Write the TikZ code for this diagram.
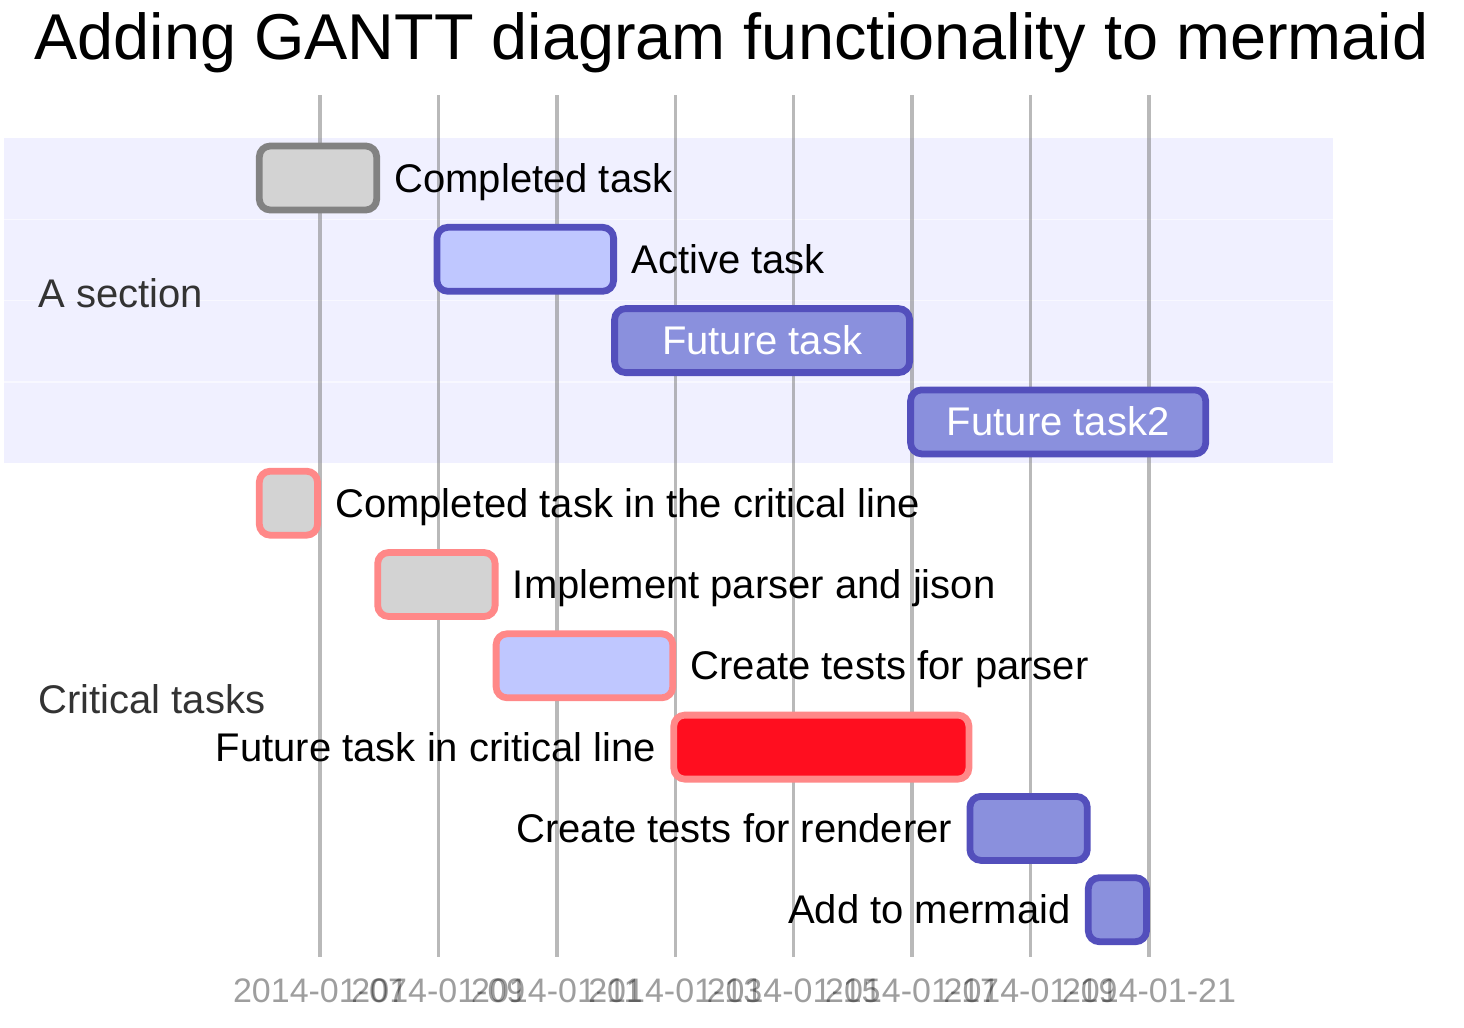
\documentclass[tikz,border=0pt]{standalone}
\usepackage{fontspec}
\setmainfont{Liberation Sans}
\usetikzlibrary{calc}
\definecolor{sectionbg}{HTML}{F0F0FF}
\definecolor{rowsep}{HTML}{F8F8FF}
\definecolor{donefill}{HTML}{D3D3D3}
\definecolor{donestroke}{HTML}{828282}
\definecolor{activefill}{HTML}{BFC7FF}
\definecolor{taskstroke}{HTML}{534FBC}
\definecolor{futurefill}{HTML}{8A90DD}
\definecolor{critstroke}{HTML}{FF8888}
\definecolor{critfill}{HTML}{FF0E1F}
\definecolor{sectiontext}{HTML}{333333}
\tikzset{
  taskbar/.style={draw, rectangle, rounded corners=5.5pt, line width=3.4pt, inner sep=0pt, minimum height=32pt},
  donebar/.style={taskbar, fill=donefill, draw=donestroke},
  activebar/.style={taskbar, fill=activefill, draw=taskstroke},
  futurebar/.style={taskbar, fill=futurefill, draw=taskstroke},
  critdone/.style={taskbar, fill=donefill, draw=critstroke},
  critactive/.style={taskbar, fill=activefill, draw=critstroke},
  critfuture/.style={taskbar, fill=critfill, draw=critstroke},
  tasklabel/.style={inner sep=0pt, font=\fontsize{20pt}{24pt}\selectfont, text=black},
  innerlabel/.style={tasklabel, text=white, anchor=base},
  sectionlabel/.style={inner sep=0pt, font=\fontsize{20pt}{24pt}\selectfont, text=sectiontext, anchor=base west},
  ticklabel/.style={inner sep=0pt, font=\fontsize{17pt}{20pt}\selectfont, text=black, text opacity=0.38, anchor=base},
  gridline/.style={draw=gray, line width=1.75pt, draw opacity=0.55},
  titlelabel/.style={inner sep=0pt, font=\fontsize{32.4pt}{38pt}\selectfont, text=black, anchor=base}
}
\begin{document}
\begin{tikzpicture}[x=0.5pt, y=-0.5pt]
\useasboundingbox[fill=white] (0,0) rectangle (1464,1028);
% section background
\fill[sectionbg] (4,138) rectangle (1333,463.2);
\foreach \yy in {219.3, 300.6, 381.9} \draw[rowsep, line width=0.75pt] (4,\yy) -- (1333,\yy);
% title
\node[titlelabel] (title) at (731.5,60) {Adding GANTT diagram functionality to mermaid};
% grid lines and tick labels
\foreach \k/\lab in {0/07,1/09,2/11,3/13,4/15,5/17,6/19,7/21} {
  \pgfmathsetmacro{\gx}{320+118.43*\k}
  \draw[gridline] (\gx,95) -- (\gx,957);
  \node[ticklabel] (tick\k) at (\gx,1002) {2014-01-\lab};
}
% section labels
\node[sectionlabel] (secA) at (38,307) {A section};
\node[sectionlabel] (secB) at (38,713) {Critical tasks};
% bars
\node[donebar,    minimum width=58.7pt]   (b1)  at (318.0,178.0) {};
\node[activebar,  minimum width=88.35pt]  (b2)  at (525.25,259.3) {};
\node[futurebar,  minimum width=147.5pt]  (b3)  at (762.1,340.6) {};
\node[futurebar,  minimum width=147.55pt] (b4)  at (1058.15,421.9) {};
\node[critdone,   minimum width=29.1pt]   (b5)  at (288.4,503.2) {};
\node[critdone,   minimum width=58.7pt]   (b6)  at (436.4,584.5) {};
\node[critactive, minimum width=88.35pt]  (b7)  at (584.45,665.8) {};
\node[critfuture, minimum width=147.55pt] (b8)  at (821.35,747.1) {};
\node[futurebar,  minimum width=58.7pt]   (b9)  at (1028.6,828.4) {};
\node[futurebar,  minimum width=29.1pt]   (b10) at (1117.4,909.7) {};
% labels
\node[tasklabel, anchor=base west] (t1) at ($(b1.east)+(14,14)$) {Completed task};
\node[tasklabel, anchor=base west] (t2) at ($(b2.east)+(14,14)$) {Active task};
\node[innerlabel] (t3) at ($(b3.center)+(0,14)$) {Future task};
\node[innerlabel] (t4) at ($(b4.center)+(0,14)$) {Future task2};
\node[tasklabel, anchor=base west] (t5) at ($(b5.east)+(14,14)$) {Completed task in the critical line};
\node[tasklabel, anchor=base west] (t6) at ($(b6.east)+(14,14)$) {Implement parser and jison};
\node[tasklabel, anchor=base west] (t7) at ($(b7.east)+(14,14)$) {Create tests for parser};
\node[tasklabel, anchor=base east] (t8) at ($(b8.west)+(-14,14)$) {Future task in critical line};
\node[tasklabel, anchor=base east] (t9) at ($(b9.west)+(-14,14)$) {Create tests for renderer};
\node[tasklabel, anchor=base east] (t10) at ($(b10.west)+(-14,14)$) {Add to mermaid};
\end{tikzpicture}
\end{document}
